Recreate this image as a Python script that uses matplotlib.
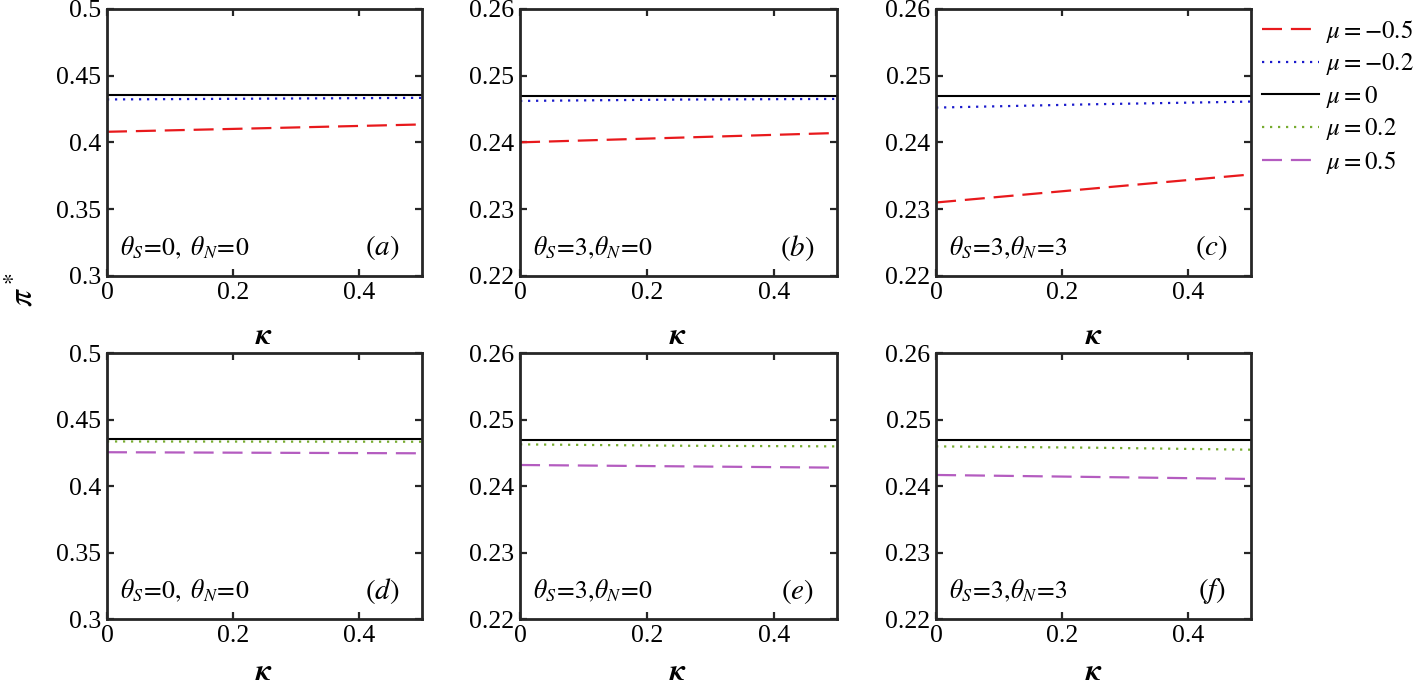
import matplotlib
matplotlib.use("Agg")
import matplotlib.pyplot as plt
from matplotlib.lines import Line2D

plt.rcParams['font.family'] = ['Liberation Serif', 'DejaVu Serif']
plt.rcParams['mathtext.fontset'] = 'stix'

# ---- data ----
kappa = [0.0, 0.25, 0.5]

# top row: mu = -0.5, -0.2, 0
a_m05 = [0.4079, 0.4106, 0.4134]
a_m02 = [0.4321, 0.4327, 0.4333]
a_0 = [0.4355, 0.4355, 0.4355]

b_m05 = [0.2400, 0.2407, 0.2414]
b_m02 = [0.2462, 0.2464, 0.2465]
b_0 = [0.2470, 0.2470, 0.2470]

c_m05 = [0.2310, 0.2331, 0.2352]
c_m02 = [0.2452, 0.2457, 0.2461]
c_0 = [0.2470, 0.2470, 0.2470]

# bottom row: mu = 0, 0.2, 0.5
d_0 = [0.4356, 0.4356, 0.4356]
d_p02 = [0.4337, 0.4336, 0.4335]
d_p05 = [0.4256, 0.4252, 0.4248]

e_0 = [0.2470, 0.2470, 0.2470]
e_p02 = [0.2463, 0.2461, 0.2460]
e_p05 = [0.2432, 0.2430, 0.2428]

f_0 = [0.2470, 0.2470, 0.2470]
f_p02 = [0.2460, 0.2458, 0.2455]
f_p05 = [0.2417, 0.2414, 0.2411]

legend_labels = [r'$\mu = -0.5$', r'$\mu = -0.2$', r'$\mu = 0$', r'$\mu = 0.2$', r'$\mu = 0.5$']
panel_letters = ['(a)', '(b)', '(c)', '(d)', '(e)', '(f)']
panel_params = [r'$\theta_S\!=\!0,\ \theta_N\!=\!0$', r'$\theta_S\!=\!3,\!\theta_N\!=\!0$', r'$\theta_S\!=\!3,\!\theta_N\!=\!3$',
                r'$\theta_S\!=\!0,\ \theta_N\!=\!0$', r'$\theta_S\!=\!3,\!\theta_N\!=\!0$', r'$\theta_S\!=\!3,\!\theta_N\!=\!3$']
yticks_left = [0.3, 0.35, 0.4, 0.45, 0.5]
yticklabels_left = ['0.3', '0.35', '0.4', '0.45', '0.5']
yticks_right = [0.22, 0.23, 0.24, 0.25, 0.26]
yticklabels_right = ['0.22', '0.23', '0.24', '0.25', '0.26']
xticks = [0, 0.2, 0.4]
xticklabels = ['0', '0.2', '0.4']

# ---- styles ----
styles = {
    'm05': dict(color='#e8191c', lw=1.6, dashes=(9, 4)),
    'm02': dict(color='#1a1acc', lw=1.6, dashes=(1, 2.6)),
    '0': dict(color='black', lw=1.5, linestyle='-'),
    'p02': dict(color='#77ac30', lw=1.6, dashes=(1, 2.6)),
    'p05': dict(color='#b45cc0', lw=1.6, dashes=(9, 4)),
}

fig = plt.figure(figsize=(14.17, 6.90), dpi=100)

col_lefts = [0.0755, 0.367, 0.6606]
col_widths = [0.2223, 0.2237, 0.2223]
row_bottoms = [0.600, 0.1025]
row_heights = [0.3874, 0.3855]

panels = [
    [('m05', a_m05), ('m02', a_m02), ('0', a_0)],
    [('m05', b_m05), ('m02', b_m02), ('0', b_0)],
    [('m05', c_m05), ('m02', c_m02), ('0', c_0)],
    [('0', d_0), ('p02', d_p02), ('p05', d_p05)],
    [('0', e_0), ('p02', e_p02), ('p05', e_p05)],
    [('0', f_0), ('p02', f_p02), ('p05', f_p05)],
]

for i in range(6):
    r, c = divmod(i, 3)
    ax = fig.add_axes([col_lefts[c], row_bottoms[r], col_widths[c], row_heights[r]])
    for key, vals in panels[i]:
        ax.plot(kappa, vals, **styles[key])
    ax.set_xlim(0, 0.5)
    if c == 0:
        ax.set_ylim(0.3, 0.5)
        ax.set_yticks(yticks_left)
        ax.set_yticklabels(yticklabels_left)
    else:
        ax.set_ylim(0.22, 0.26)
        ax.set_yticks(yticks_right)
        ax.set_yticklabels(yticklabels_right)
    ax.set_xticks(xticks)
    ax.set_xticklabels(xticklabels)
    ax.tick_params(direction='in', top=True, right=True, length=5, width=1.6,
                   labelsize=18.5, color='#262626', pad=4)
    for s in ax.spines.values():
        s.set_linewidth(2.0)
        s.set_color('#262626')
    ax.set_xlabel(r'$\boldsymbol{\kappa}$', fontsize=22, labelpad=(13 if r == 0 else 8))
    ax.text(0.04, 0.105, panel_params[i], transform=ax.transAxes, fontsize=18.5, va='center', ha='left')
    ax.text(0.875, 0.105, '$' + panel_letters[i] + '$',
            transform=ax.transAxes, fontsize=21, va='center', ha='center')

fig.text(0.016, 1 - 290 / 690, r'$\pi^*$', rotation=90, fontsize=24, va='center', ha='center')

handles = [Line2D([], [], **styles[k]) for k in ['m05', 'm02', '0', 'p02', 'p05']]
fig.legend(handles, legend_labels, loc='upper left', bbox_to_anchor=(0.880, 0.996),
           frameon=False, fontsize=18, handlelength=2.3, handletextpad=0.25,
           labelspacing=0.26, borderaxespad=0.2)

fig.savefig('out.png', dpi=100)
